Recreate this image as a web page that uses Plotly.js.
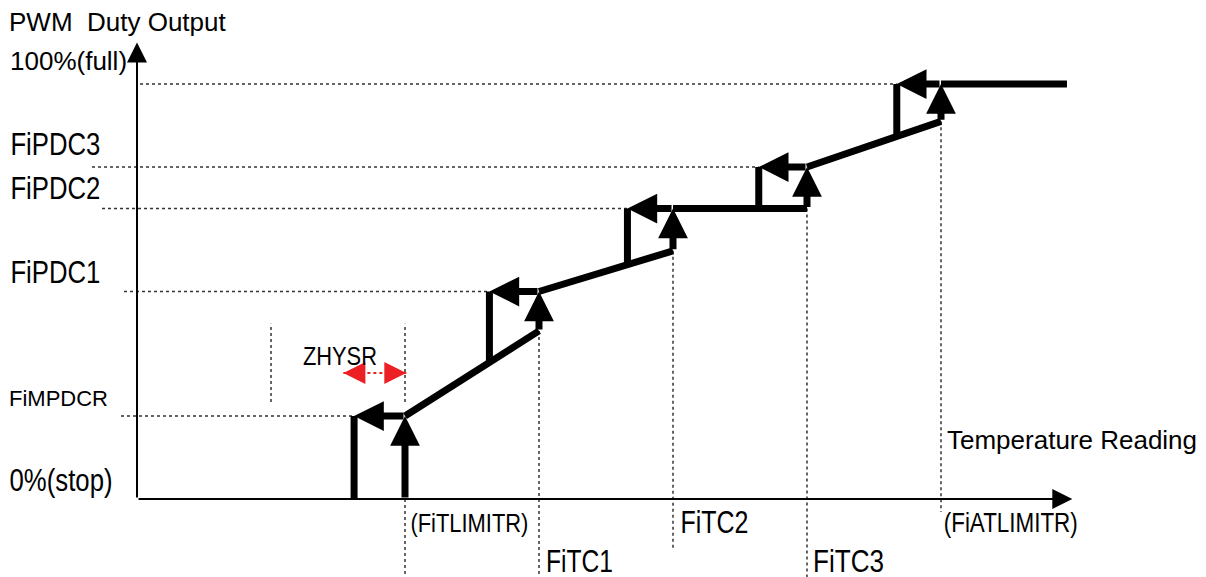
<!DOCTYPE html>
<html><head><meta charset="utf-8">
<script src="https://cdn.plot.ly/plotly-3.0.1.min.js"></script>
<style>html,body{margin:0;padding:0;background:#fff}#chart{width:1206px;height:577px}</style>
</head><body><div id="chart"></div>
<script>
// ---------------- data ----------------
const thresholdLabels = ['(FiTLIMITR)', 'FiTC1', 'FiTC2', 'FiTC3', '(FiATLIMITR)'];
const thresholdTemps  = [20, 30, 40, 50, 60];          // rising switch points
const returnTemps     = [16.2, 26.3, 36.6, 46.4, 56.7]; // falling (hysteresis) return points
const levelLabels     = ['FiMPDCR', 'FiPDC1', 'FiPDC2', 'FiPDC3', '100%(full)'];
const levelDuty       = [20, 50, 70, 80, 100];          // duty reached at each step (%)
const dutyBeforeStep  = [0, 40.5, 59.8, 70, 91];        // duty on the curve just before each step
const returnDuty      = [0, 33, 56.5, 69.9, 87.7];      // duty where the falling drop meets the curve
const fullOutputEndTemp = 69.4;
const zhysrSpan       = [15.4, 20.1];
const zhysrGuideTemps = [10, 20];
const zhysrGuideDuty  = [23.4, 42.2];
const axisEndTemp = 69.8, axisEndDuty = 110;
const zeroLabel  = '0%(stop)';
const xAxisTitle = 'Temperature Reading';
const yAxisTitle = 'PWM\u00a0 Duty Output';
const zhysrLabel = 'ZHYSR';

// ---------------- geometry / style ----------------
const W = 1206, H = 577;
const OX = 137, OY = 499, PXT = 13.4, PXD = 4.15;
const xRange = [-OX / PXT, (W - OX) / PXT];
const yRange = [-(H - OY) / PXD, OY / PXD];
const tX = px => (px - OX) / PXT;
const dY = py => (OY - py) / PXD;
const REG = 'Liberation Sans, Arial, sans-serif';
const BLACK = '#000000', DOT = '#333333', RED = '#ec2024';

// dotted guide lines
const levelLineStartPx = [121, 124, 102, 92, 140];
const threshLineBottomPy = [577, 577, 548, 577, 512];
const gx = [], gy = [];
levelDuty.forEach((d, i) => { gx.push(tX(levelLineStartPx[i]), returnTemps[i], null); gy.push(d, d, null); });
thresholdTemps.forEach((t, i) => { gx.push(t, t, null); gy.push(dutyBeforeStep[i], dY(threshLineBottomPy[i]), null); });
zhysrGuideTemps.forEach(t => { gx.push(t, t, null); gy.push(zhysrGuideDuty[0], zhysrGuideDuty[1], null); });

// thick output curve segments
const cx = [], cy = [];
for (let i = 0; i < thresholdTemps.length; i++) {
  const nextT = i + 1 < thresholdTemps.length ? thresholdTemps[i + 1] : fullOutputEndTemp;
  const nextD = i + 1 < thresholdTemps.length ? dutyBeforeStep[i + 1] : levelDuty[i];
  cx.push(thresholdTemps[i], nextT, null); cy.push(levelDuty[i], nextD, null);
  cx.push(returnTemps[i], returnTemps[i], null); cy.push(levelDuty[i], returnDuty[i], null);
}

const zY = dY(373);
const traces = [
  {x: gx, y: gy, mode: 'lines', line: {color: DOT, width: 1.5, dash: 'dot'}, hoverinfo: 'skip'},
  {x: [zhysrSpan[0], zhysrSpan[1]], y: [zY, zY], mode: 'lines', line: {color: RED, width: 2, dash: 'dot'}, hoverinfo: 'skip'},
  {x: cx, y: cy, mode: 'lines', line: {color: BLACK, width: 7}, hoverinfo: 'skip'}
];

const ann = [];
function arrow(x0, y0, x1, y1, w, s, c) {
  ann.push({x: x1, y: y1, ax: x0, ay: y0, xref: 'x', yref: 'y', axref: 'x', ayref: 'y', text: '',
    showarrow: true, arrowhead: 2, arrowsize: s, arrowwidth: w, arrowcolor: c, standoff: 0, startstandoff: 0});
}
// axes
arrow(0, 0, 0, axisEndDuty, 2, 2, BLACK);
arrow(0, 0, axisEndTemp, 0, 2, 2, BLACK);
// step arrows
thresholdTemps.forEach((t, i) => {
  arrow(t, dutyBeforeStep[i], t, levelDuty[i], 7, 0.85, BLACK);
  arrow(t, levelDuty[i], returnTemps[i], levelDuty[i], 7, 0.85, BLACK);
});
// red hysteresis heads (pixel offsets)
ann.push({x: zhysrSpan[0], y: zY, ax: 22, ay: 0, xref: 'x', yref: 'y', text: '', showarrow: true, arrowhead: 2, arrowsize: 2.2, arrowwidth: 2, arrowcolor: RED, standoff: 0});
ann.push({x: zhysrSpan[1], y: zY, ax: -22, ay: 0, xref: 'x', yref: 'y', text: '', showarrow: true, arrowhead: 2, arrowsize: 2.2, arrowwidth: 2, arrowcolor: RED, standoff: 0});

// text labels; "fit" labels are condensed to the reference width after drawing
const fits = [];
function label(text, xpx, ypx, size, fitWidth) {
  if (fitWidth) fits.push({index: ann.length, width: fitWidth});
  ann.push({text: text, xref: 'paper', yref: 'paper', x: xpx / W, y: 1 - ypx / H,
    xanchor: fitWidth ? 'center' : 'left', yanchor: 'middle',
    showarrow: false, font: {family: REG, size: size, color: BLACK}, borderpad: 0});
}
label(yAxisTitle, 8, 22, 26);
label(xAxisTitle, 946, 440, 26);
label('100%(full)', 9, 61, 26);
label('FiMPDCR', 8, 398, 22);
label(zeroLabel, 61.5, 480, 31, 103);
const levelLabelPy = [null, 272, 188, 144];
[1, 2, 3].forEach(i => label(levelLabels[i], 55, levelLabelPy[i], 30.5, 90));
const threshCenterPx = [469, 579.5, 714, 848.5, 1010];
const threshLabelPy = [523, 561, 522, 561, 523];
const threshWidth = [118, 67, 68, 71, 134];
const threshSize = [26.5, 30.5, 30.5, 30.5, 27];
thresholdLabels.forEach((l, i) => label(l, threshCenterPx[i], threshLabelPy[i], threshSize[i], threshWidth[i]));
label(zhysrLabel, 340, 356, 26.5, 74);

const layout = {
  width: W, height: H, margin: {l: 0, r: 0, t: 0, b: 0},
  paper_bgcolor: '#ffffff', plot_bgcolor: '#ffffff', showlegend: false,
  xaxis: {range: xRange, visible: false, fixedrange: true},
  yaxis: {range: yRange, visible: false, fixedrange: true},
  annotations: ann
};
Plotly.newPlot('chart', traces, layout, {staticPlot: true, displayModeBar: false}).then(gd => {
  fits.forEach(f => {
    const t = gd.querySelector('g.annotation[data-index="' + f.index + '"] text.annotation-text');
    if (t) { t.setAttribute('textLength', f.width); t.setAttribute('lengthAdjust', 'spacingAndGlyphs'); }
  });
});
</script></body></html>
